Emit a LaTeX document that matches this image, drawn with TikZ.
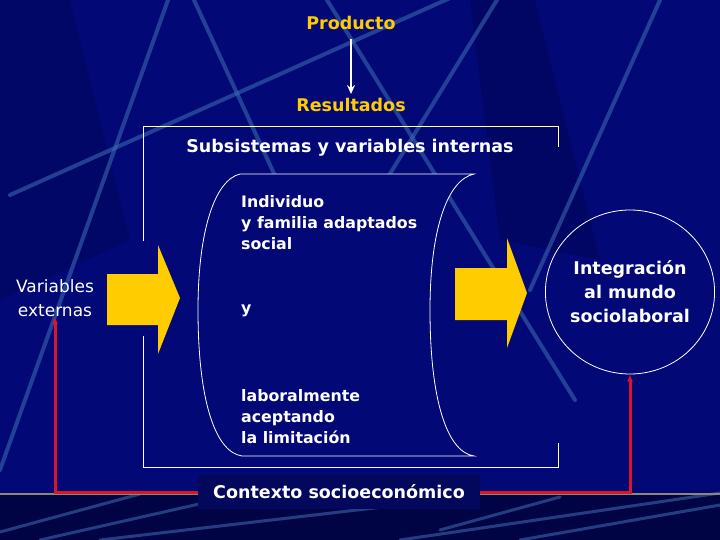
\documentclass[tikz,border=0pt]{standalone}
\usepackage{fontspec}
\setmainfont{DejaVu Sans}
\usetikzlibrary{shapes.geometric,arrows.meta}
\definecolor{navy}{RGB}{2,8,118}
\definecolor{deepnavy}{RGB}{0,4,68}
\definecolor{boxnavy}{RGB}{3,8,92}
\definecolor{streak}{RGB}{62,110,180}
\definecolor{gold}{RGB}{255,204,0}
\definecolor{redline}{RGB}{220,20,40}
\definecolor{floorline}{RGB}{140,135,110}

\begin{document}
\begin{tikzpicture}[x=1pt, y=-1pt, heading/.style={font=\fontsize{17.5}{20}\selectfont\bfseries, text=gold, inner sep=1pt}, caption/.style={font=\fontsize{17.5}{20}\selectfont\bfseries, text=white, inner sep=1pt}, item/.style={font=\fontsize{15.8}{21}\selectfont\bfseries, text=white, align=left, anchor=west, inner sep=0pt}, outer/.style={font=\fontsize{17}{24}\selectfont, text=white, align=center, inner sep=0pt}, goalcircle/.style={draw=white, line width=0.8pt, ellipse, minimum width=154pt, minimum height=164pt, inner sep=0pt, align=center, font=\fontsize{17.5}{24}\selectfont\bfseries, text=white}, frame/.style={draw=white, line width=1pt}, scroll/.style={draw=white, fill=navy, line width=0.8pt}, block/.style={fill=gold}, feed/.style={draw=redline, line width=3pt, -{Latex[length=7pt,width=6pt]}}, n/.style={draw=white, line width=2pt, -{Stealth[length=9pt,width=8pt]}}, streakline/.style={draw=streak, line width=4pt, line cap=round, opacity=0.55}]
            \useasboundingbox (0,0) rectangle (720,540);
            % background
            \fill[navy] (0,0) rectangle (720,540);
            \fill[black, opacity=0.12] (0,0) -- (70,0) -- (130,240) -- (0,300) -- cycle;
            \fill[black, opacity=0.15] (470,0) -- (535,0) -- (600,260) -- (500,240) -- cycle;
            \fill[deepnavy] (0,494) rectangle (720,540);
            \draw[streakline] (168,0) -- (0,470);
            \draw[streakline] (194,0) -- (300,230);
            \draw[streakline] (10,195) -- (450,-2);
            \draw[streakline] (497,0) -- (380,190);
            \draw[streakline] (660,0) -- (530,290);
            \draw[streakline] (327,0) -- (575,400);
            \draw[streakline, line width=3pt] (0,532) -- (140,494);
            \draw[streakline, line width=3pt] (40,540) -- (230,497);
            \draw[streakline, line width=3pt] (100,540) -- (400,505);
            \draw[streakline, line width=3pt] (400,540) -- (720,493);
            \draw[streakline, line width=3pt] (520,540) -- (720,505);
            \draw[streakline, line width=3pt] (440,530) -- (560,497);
            \draw[floorline, line width=2pt] (0,494) -- (720,494);
            % frame and shapes
            \draw[frame] (143,241) -- (143,127) -- (558,127) -- (558,147);
            \draw[frame] (143,336) -- (143,467) -- (558,467) -- (558,443);
            \fill[block] (107,274) -- (158,274) -- (158,245) -- (180,298) -- (158,354) -- (158,325) -- (107,325) -- cycle;
            \fill[block] (455,268) -- (507,268) -- (507,238) -- (527,293) -- (507,348) -- (507,320) -- (455,320) -- cycle;
            \draw[scroll] (240,174) -- (474,174) .. controls (447,180) and (430,230) .. (430,310) .. controls (430,400) and (447,452) .. (474,456) -- (242,456) .. controls (215,452) and (198,400) .. (198,310) .. controls (198,230) and (215,180) .. (240,174) -- cycle;
            % nodes
            \node[heading] (prod) at (351,23) {Producto};
            \node[heading] (res) at (351,105) {Resultados};
            \node[caption] (subs) at (350,148) {Subsistemas y variables internas};
            \node[item] (top) at (241,223) {Individuo\\y familia adaptados\\social};
            \node[item] (mid) at (241,311) {y};
            \node[item] (low) at (241,417) {laboralmente\\aceptando\\la limitación};
            \node[outer] (ext) at (55,298) {Variables\\externas};
            \node[goalcircle] (goal) at (630,292) {Integración\\al mundo\\sociolaboral};
            \node[caption, fill=boxnavy, minimum width=282pt, minimum height=34pt] (ctx) at (339,492) {Contexto socioeconómico};
            % edges
            \draw[n, shorten <=8pt, shorten >=3pt] (prod.south) -- (res.north);
            \draw[feed] (ctx.west) -| (ext.south);
            \draw[feed] (ctx.east) -| (goal.south);
        \end{tikzpicture}
\end{document}
